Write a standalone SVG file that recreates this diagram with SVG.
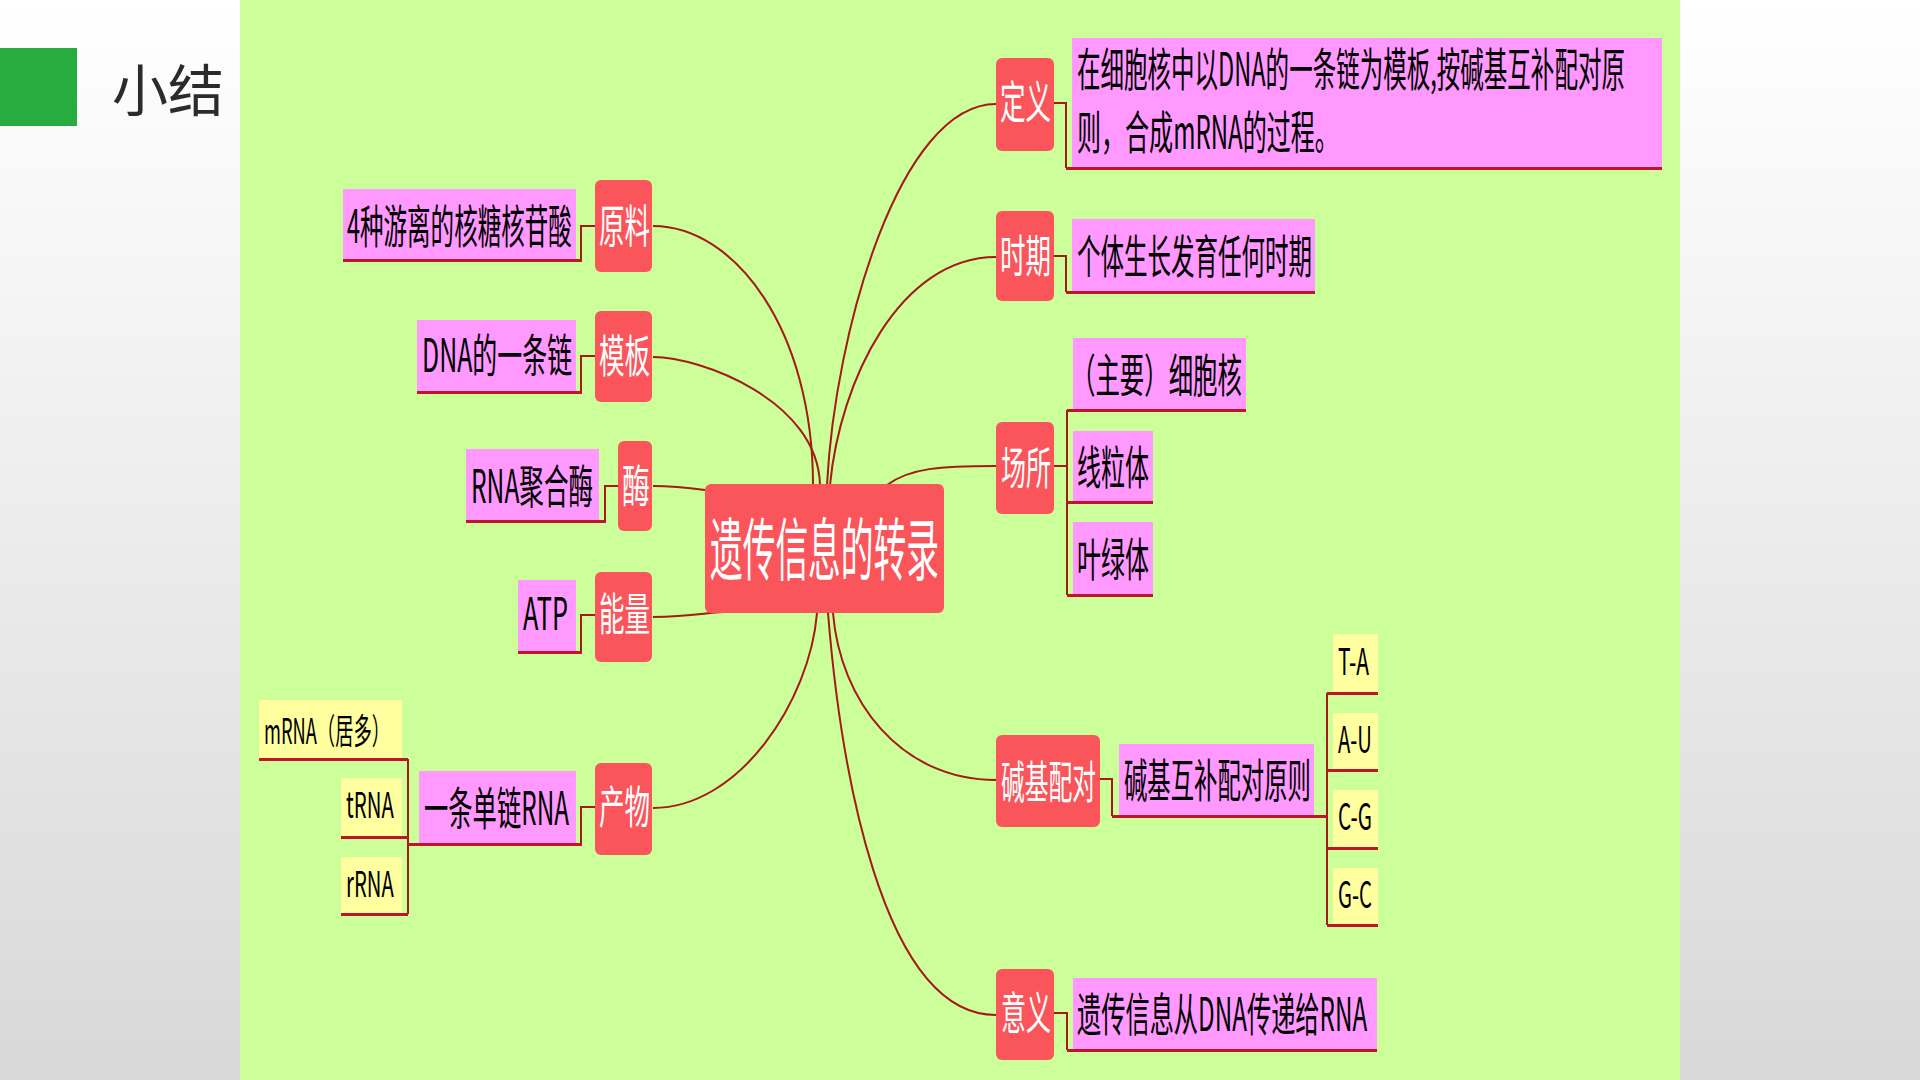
<svg xmlns="http://www.w3.org/2000/svg" width="1920" height="1080" viewBox="0 0 1920 1080">
<defs>
<linearGradient id="side" x1="0" y1="0" x2="0" y2="1">
<stop offset="0" stop-color="#ffffff"/>
<stop offset="1" stop-color="#d8d8d8"/>
</linearGradient>
<style>
.red{fill:#f9555b}
.pink{fill:#ff99ff}
.yel{fill:#ffffa0}
.t{font-family:"Noto Sans CJK SC","Noto Sans",sans-serif;fill:#000;dominant-baseline:central}
.w{font-family:"Noto Sans CJK SC","Noto Sans",sans-serif;fill:#fff;dominant-baseline:central}
.curve{fill:none;stroke:#a31a16;stroke-width:2}
.elb{fill:none;stroke:#a31a16;stroke-width:2}
.ul{fill:none;stroke:#c0142c;stroke-width:3}
</style>
</defs>
<rect x="0" y="0" width="1920" height="1080" fill="url(#side)"/>
<rect x="240" y="0" width="1440" height="1080" fill="#ccff99"/>
<g id="title">
<rect x="0" y="48" width="77" height="78" fill="#28ab3f"/>
<text x="112" y="86" font-family="Noto Sans CJK SC, sans-serif" font-size="56" fill="#2b2b2b" dominant-baseline="central">小结</text>
</g>

<g id="connectors">
<path class="curve" d="M653,226 C735,226 813,330 813,485"/>
<path class="curve" d="M653,357 C700,357 818,400 820,485"/>
<path class="curve" d="M653,486 C675,486 690,488 705,490"/>
<path class="curve" d="M653,617 C690,616 705,613 723,612"/>
<path class="curve" d="M653,808 C740,808 810,700 817,613"/>
<path class="curve" d="M827,485 C835,330 900,104 996,104"/>
<path class="curve" d="M830,485 C840,380 900,257 996,257"/>
<path class="curve" d="M887,485 C910,468 940,466 996,466"/>
<path class="curve" d="M833,613 C840,700 900,780 996,780"/>
<path class="curve" d="M828,613 C840,760 880,1015 996,1015"/>
<path class="elb" d="M595,226 H581 V260"/>
<path class="elb" d="M595,356 H581 V392"/>
<path class="elb" d="M618,486 H605 V521"/>
<path class="elb" d="M595,615 H581 V652"/>
<path class="elb" d="M595,807 H581 V844"/>
<path class="elb" d="M408,759 V914 M402,759 H408 M402,837 H408 M402,914 H408"/>
<path class="elb" d="M1054,103 H1066 V168"/>
<path class="elb" d="M1054,256 H1066 V292"/>
<path class="elb" d="M1054,466 H1067 M1067,410 V595"/>
<path class="elb" d="M1100,779 H1112 V816"/>
<path class="elb" d="M1327,693 V925"/>
<path class="elb" d="M1054,1013 H1067 V1050"/>
</g>

<g id="center">
<rect class="red" x="705" y="484" width="239" height="129" rx="6"/>
<text class="w" transform="translate(710,545) scale(0.481,1)" font-size="68" textLength="476" lengthAdjust="spacingAndGlyphs">遗传信息的转录</text>
</g>

<g id="n-yuanliao">
<rect class="red" x="595" y="180" width="57" height="92" rx="6"/>
<text class="w" transform="translate(599,224) scale(0.567,1)" font-size="45" textLength="90" lengthAdjust="spacingAndGlyphs">原料</text>
</g>
<g id="n-yuanliao-c">
<rect class="pink" x="343" y="189" width="233" height="71"/>
<path class="ul" d="M343,260.5 H582"/>
<text class="t" transform="translate(347,223) scale(0.512,1)" font-size="46" textLength="439" lengthAdjust="spacingAndGlyphs">4种游离的核糖核苷酸</text>
</g>

<g id="n-muban">
<rect class="red" x="595" y="311" width="57" height="91" rx="6"/>
<text class="w" transform="translate(599,354) scale(0.567,1)" font-size="45" textLength="90" lengthAdjust="spacingAndGlyphs">模板</text>
</g>
<g id="n-muban-c">
<rect class="pink" x="417" y="320" width="159" height="72"/>
<path class="ul" d="M417,392.5 H582"/>
<text class="t" transform="translate(422,352) scale(0.556,1)" font-size="46" textLength="270" lengthAdjust="spacingAndGlyphs">DNA的一条链</text>
</g>

<g id="n-mei">
<rect class="red" x="618" y="441" width="34" height="90" rx="6"/>
<text class="w" transform="translate(622,484) scale(0.622,1)" font-size="45" textLength="45" lengthAdjust="spacingAndGlyphs">酶</text>
</g>
<g id="n-mei-c">
<rect class="pink" x="466" y="449" width="133" height="72"/>
<path class="ul" d="M466,521.5 H606"/>
<text class="t" transform="translate(471,483) scale(0.545,1)" font-size="46" textLength="224" lengthAdjust="spacingAndGlyphs">RNA聚合酶</text>
</g>

<g id="n-nengliang">
<rect class="red" x="595" y="572" width="57" height="90" rx="6"/>
<text class="w" transform="translate(599,612) scale(0.567,1)" font-size="45" textLength="90" lengthAdjust="spacingAndGlyphs">能量</text>
</g>
<g id="n-nengliang-c">
<rect class="pink" x="518" y="580" width="58" height="72"/>
<path class="ul" d="M518,652.5 H582"/>
<text class="t" transform="translate(523,610) scale(0.536,1)" font-size="45" textLength="84" lengthAdjust="spacingAndGlyphs">ATP</text>
</g>

<g id="n-chanwu">
<rect class="red" x="595" y="763" width="57" height="92" rx="6"/>
<text class="w" transform="translate(599,805) scale(0.567,1)" font-size="45" textLength="90" lengthAdjust="spacingAndGlyphs">产物</text>
</g>
<g id="n-chanwu-c">
<rect class="pink" x="419" y="771" width="157" height="73"/>
<path class="ul" d="M408,844.5 H582"/>
<text class="t" transform="translate(424,805) scale(0.537,1)" font-size="46" textLength="270" lengthAdjust="spacingAndGlyphs">一条单链RNA</text>
</g>
<g id="n-mrna">
<rect class="yel" x="259" y="700" width="143" height="59"/>
<path class="ul" d="M259,759.5 H408"/>
<text class="t" transform="translate(264,728) scale(0.536,1)" font-size="35" textLength="235" lengthAdjust="spacingAndGlyphs">mRNA（居多）</text>
</g>
<g id="n-trna">
<rect class="yel" x="341" y="778" width="61" height="59"/>
<path class="ul" d="M341,837.5 H408"/>
<text class="t" transform="translate(346,803) scale(0.59,1)" font-size="36" textLength="81" lengthAdjust="spacingAndGlyphs">tRNA</text>
</g>
<g id="n-rrna">
<rect class="yel" x="341" y="857" width="61" height="57"/>
<path class="ul" d="M341,914.5 H408"/>
<text class="t" transform="translate(346,882) scale(0.59,1)" font-size="36" textLength="81" lengthAdjust="spacingAndGlyphs">rRNA</text>
</g>

<g id="n-dingyi">
<rect class="red" x="996" y="58" width="58" height="93" rx="6"/>
<text class="w" transform="translate(1000,100) scale(0.567,1)" font-size="45" textLength="90" lengthAdjust="spacingAndGlyphs">定义</text>
</g>
<g id="n-dingyi-c">
<rect class="pink" x="1072" y="38" width="590" height="130"/>
<path class="ul" d="M1066,168.5 H1662"/>
<text class="t" transform="translate(1077,67) scale(0.515,1)" font-size="46" textLength="1064" lengthAdjust="spacingAndGlyphs">在细胞核中以DNA的一条链为模板,按碱基互补配对原</text>
<text class="t" transform="translate(1077,129) scale(0.531,1)" font-size="46" textLength="493" lengthAdjust="spacingAndGlyphs">则，合成mRNA的过程。</text>
</g>

<g id="n-shiqi">
<rect class="red" x="996" y="211" width="58" height="90" rx="6"/>
<text class="w" transform="translate(1000,254) scale(0.567,1)" font-size="45" textLength="90" lengthAdjust="spacingAndGlyphs">时期</text>
</g>
<g id="n-shiqi-c">
<rect class="pink" x="1072" y="219" width="243" height="73"/>
<path class="ul" d="M1066,292.5 H1315"/>
<text class="t" transform="translate(1077,253) scale(0.511,1)" font-size="46" textLength="460" lengthAdjust="spacingAndGlyphs">个体生长发育任何时期</text>
</g>

<g id="n-changsuo">
<rect class="red" x="996" y="422" width="58" height="92" rx="6"/>
<text class="w" transform="translate(1001,465) scale(0.556,1)" font-size="45" textLength="90" lengthAdjust="spacingAndGlyphs">场所</text>
</g>
<g id="n-xibaohe">
<rect class="pink" x="1073" y="338" width="173" height="72"/>
<path class="ul" d="M1067,410.5 H1246"/>
<text class="t" transform="translate(1071,372) scale(0.531,1)" font-size="46" textLength="322" lengthAdjust="spacingAndGlyphs">（主要）细胞核</text>
</g>
<g id="n-xianliti">
<rect class="pink" x="1073" y="431" width="80" height="71"/>
<path class="ul" d="M1067,502.5 H1153"/>
<text class="t" transform="translate(1077,464) scale(0.522,1)" font-size="46" textLength="138" lengthAdjust="spacingAndGlyphs">线粒体</text>
</g>
<g id="n-yelvti">
<rect class="pink" x="1073" y="522" width="80" height="73"/>
<path class="ul" d="M1067,595.5 H1153"/>
<text class="t" transform="translate(1077,556) scale(0.522,1)" font-size="46" textLength="138" lengthAdjust="spacingAndGlyphs">叶绿体</text>
</g>

<g id="n-jianji">
<rect class="red" x="996" y="735" width="104" height="92" rx="6"/>
<text class="w" transform="translate(1001,779) scale(0.528,1)" font-size="45" textLength="180" lengthAdjust="spacingAndGlyphs">碱基配对</text>
</g>
<g id="n-jianji-c">
<rect class="pink" x="1119" y="744" width="195" height="72"/>
<path class="ul" d="M1112,816.5 H1327"/>
<text class="t" transform="translate(1124,777) scale(0.508,1)" font-size="46" textLength="368" lengthAdjust="spacingAndGlyphs">碱基互补配对原则</text>
</g>
<g id="n-ta">
<rect class="yel" x="1333" y="634" width="45" height="59"/>
<path class="ul" d="M1327,693.5 H1378"/>
<text class="t" transform="translate(1338,659) scale(0.559,1)" font-size="37" textLength="55.5" lengthAdjust="spacingAndGlyphs">T-A</text>
</g>
<g id="n-au">
<rect class="yel" x="1333" y="713" width="45" height="57"/>
<path class="ul" d="M1327,770.5 H1378"/>
<text class="t" transform="translate(1338,737) scale(0.576,1)" font-size="37" textLength="59" lengthAdjust="spacingAndGlyphs">A-U</text>
</g>
<g id="n-cg">
<rect class="yel" x="1333" y="790" width="45" height="58"/>
<path class="ul" d="M1327,848.5 H1378"/>
<text class="t" transform="translate(1338,814) scale(0.576,1)" font-size="37" textLength="59" lengthAdjust="spacingAndGlyphs">C-G</text>
</g>
<g id="n-gc">
<rect class="yel" x="1333" y="868" width="45" height="57"/>
<path class="ul" d="M1327,925.5 H1378"/>
<text class="t" transform="translate(1338,892) scale(0.576,1)" font-size="37" textLength="59" lengthAdjust="spacingAndGlyphs">G-C</text>
</g>

<g id="n-yiyi">
<rect class="red" x="996" y="969" width="58" height="91" rx="6"/>
<text class="w" transform="translate(1001,1010) scale(0.556,1)" font-size="45" textLength="90" lengthAdjust="spacingAndGlyphs">意义</text>
</g>
<g id="n-yiyi-c">
<rect class="pink" x="1073" y="978" width="304" height="72"/>
<path class="ul" d="M1067,1050.5 H1377"/>
<text class="t" transform="translate(1077,1011) scale(0.496,1)" font-size="46" textLength="585" lengthAdjust="spacingAndGlyphs">遗传信息从DNA传递给RNA</text>
</g>
</svg>
